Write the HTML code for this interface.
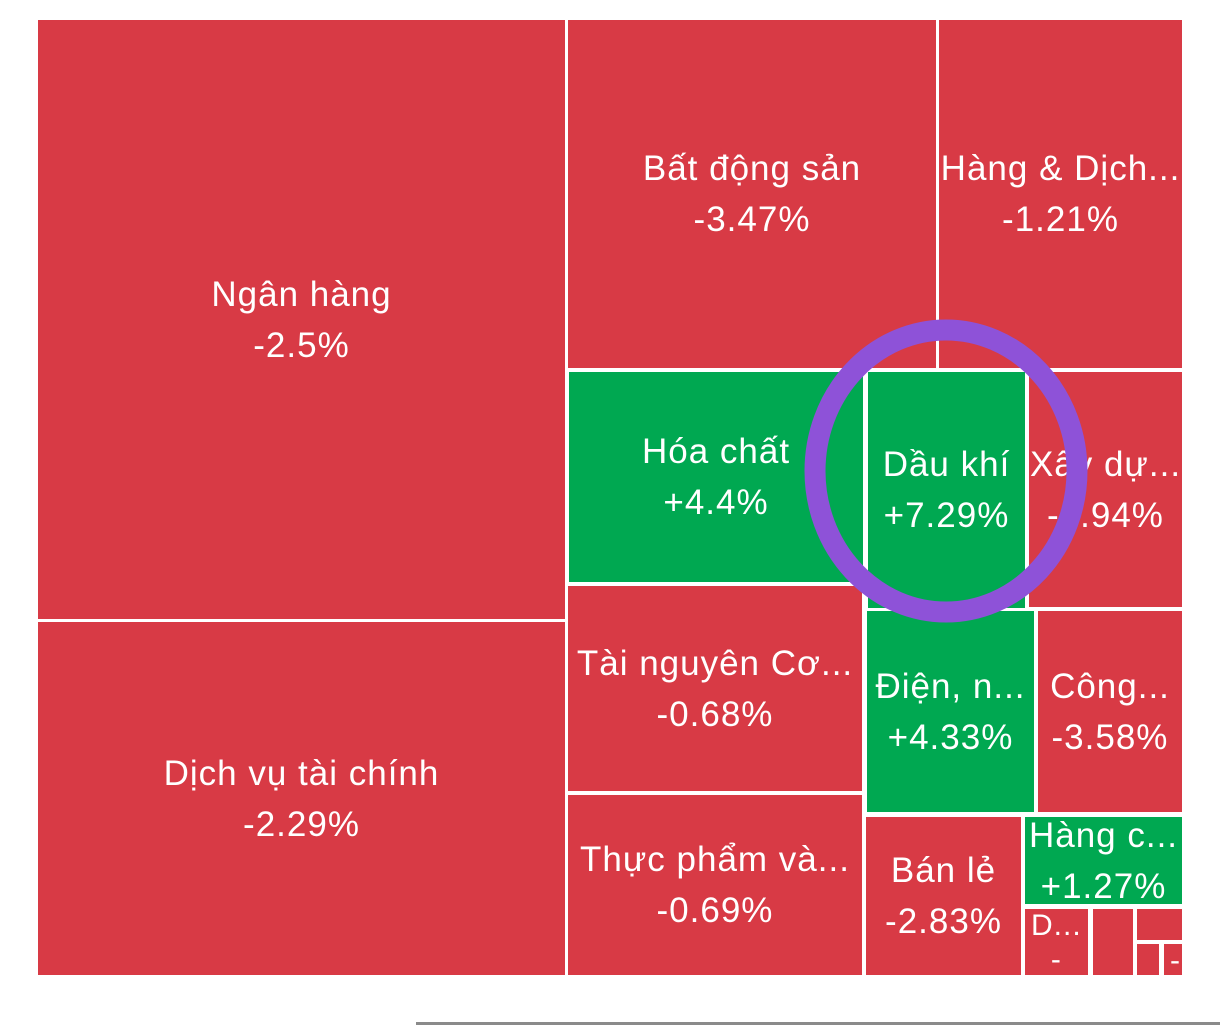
<!DOCTYPE html>
<html><head><meta charset="utf-8"><style>
body{margin:0;width:1220px;height:1026px;background:#fff;position:relative;overflow:hidden;font-family:"Liberation Sans","DejaVu Sans",sans-serif}
.c{position:absolute;color:#fff;display:flex;flex-direction:column;align-items:center;justify-content:center;text-align:center;font-size:35px;letter-spacing:1px;line-height:51px;overflow:hidden;white-space:nowrap}
.r{background:#d83a45}.g{background:#00a851}
</style></head><body>
<div id="map"></div>
<div style="position:absolute;left:416px;top:1022px;width:804px;height:3px;background:#8a8a8a"></div>
<svg style="position:absolute;left:0;top:0" width="1220" height="1026"><ellipse cx="946" cy="471" rx="131" ry="141" fill="none" stroke="#8e52d8" stroke-width="21"/></svg>
<script>
const names=["Ngân hàng","Dịch vụ tài chính","Bất động sản","Hàng & Dịch...","Hóa chất","Dầu khí","Xây dự...","Tài nguyên Cơ...","Thực phẩm và...","Điện, n...","Công...","Bán lẻ","Hàng c...","D...","","",""," -..."];
const values=["-2.5%","-2.29%","-3.47%","-1.21%","+4.4%","+7.29%","-1.94%","-0.68%","-0.69%","+4.33%","-3.58%","-2.83%","+1.27%","-","","","",""];
const cells=[[38,20,565,619,0],[38,622,565,975,0],[568,20,936,368,0],[939,20,1182,368,0],[569,372,863,582,0],[868,372,1025,608,0],[1029,372,1182,607,0],[568,586,862,791,0],[568,795,862,975,0],[867,611,1034,812,0],[1038,611,1182,812,0],[866,817,1021,975,0],[1025,817,1182,904,0],[1025,909,1088,975,0],[1093,909,1133,975,0],[1137,909,1182,940,0],[1137,944,1159,975,0],[1164,944,1182,975,0]];
const map=document.getElementById('map');
cells.forEach((c,i)=>{
 const d=document.createElement('div');
 
 
 const v=values[i];
 d.className='c '+(v.startsWith('+')?'g':'r');
 d.style.left=c[0]+'px';d.style.top=c[1]+'px';d.style.width=(c[2]-c[0])+'px';d.style.height=(c[3]-c[1])+'px';
 if(i>=13){d.style.fontSize='30px';d.style.lineHeight='34px';d.style.alignItems='flex-start';d.style.justifyContent='flex-start';d.style.paddingLeft='6px';d.style.boxSizing='border-box';}
 d.innerHTML='<div style="transform:translateY('+c[4]+'px)">'+names[i]+'<br>'+v+'</div>';
 map.appendChild(d);
});
</script>
</body></html>
